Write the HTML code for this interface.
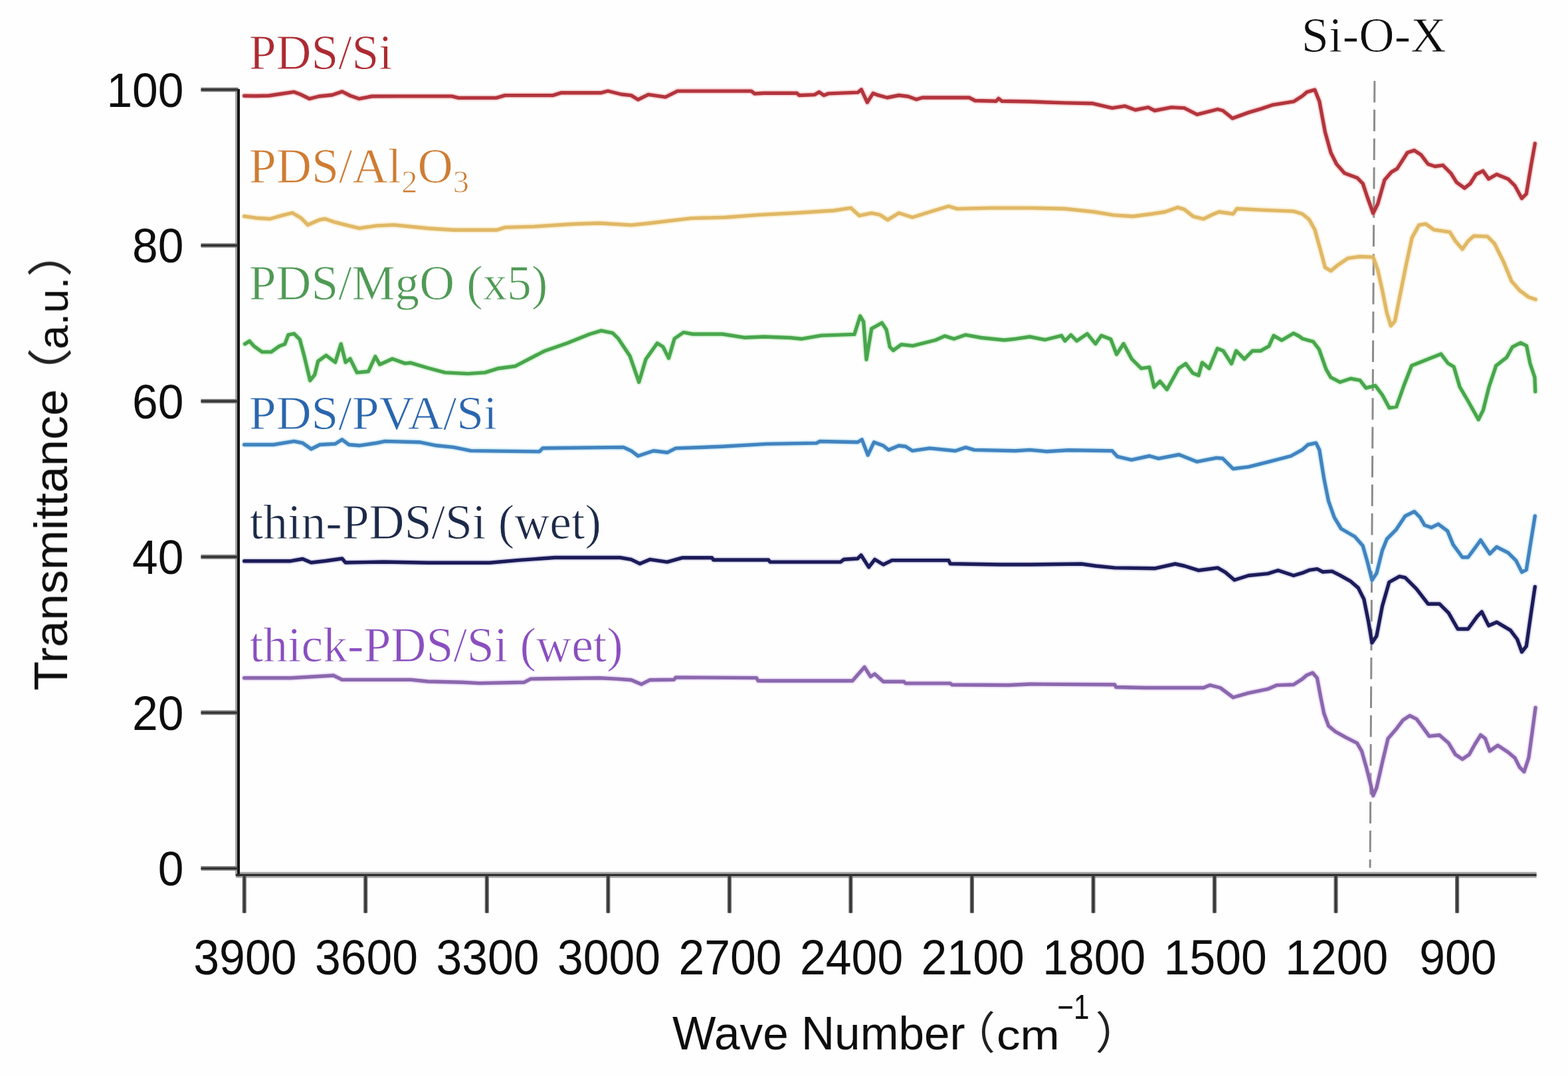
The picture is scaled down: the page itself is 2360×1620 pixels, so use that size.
<!DOCTYPE html><html><head><meta charset="utf-8"><title>FTIR spectra</title><style>html,body{margin:0;padding:0;background:#fefefe;overflow:hidden;}svg{display:block;}</style></head><body>
<svg width="2360" height="1620" viewBox="0 0 2360 1620">
<defs><filter id="b" filterUnits="userSpaceOnUse" x="0" y="0" width="2360" height="1620"><feGaussianBlur stdDeviation="0.60"/></filter></defs>
<rect width="2360" height="1620" fill="#fefefe"/><g filter="url(#b)">
<line x1="2068.9" y1="121.7" x2="2062.1" y2="1306.5" stroke="#8c8c8c" stroke-width="3.0" stroke-dasharray="32.5 10.92"/>
<path d="M367.7 144.3L385.0 144.5L405.0 144.0L425.0 141.0L442.6 138.4L452.0 142.0L465.9 148.7L480.0 145.0L500.0 143.0L515.0 137.9L527.0 144.0L540.7 148.7L560.0 145.0L600.0 144.9L640.0 144.9L680.0 144.9L690.0 147.4L747.0 147.4L760.0 143.6L832.0 143.6L845.0 139.7L905.0 139.7L915.0 137.0L935.0 142.0L950.0 143.6L960.3 150.0L975.8 142.3L1001.6 146.1L1019.7 137.1L1130.7 137.1L1135.9 141.0L1150.0 140.2L1199.4 140.2L1202.9 143.5L1225.9 142.6L1232.9 138.6L1240.0 143.5L1247.0 140.9L1291.1 139.1L1296.4 134.9L1305.3 154.1L1314.1 140.4L1319.4 142.6L1335.2 147.0L1352.9 143.5L1367.0 145.3L1379.4 149.7L1388.2 147.0L1458.8 147.0L1467.6 151.5L1499.3 152.3L1502.9 148.3L1508.2 152.3L1550.0 153.0L1602.3 154.9L1644.9 155.8L1673.9 162.6L1693.3 159.7L1708.8 165.5L1728.2 161.6L1737.8 166.5L1763.0 161.6L1782.4 162.6L1801.7 172.3L1832.7 164.5L1840.5 166.5L1855.0 178.1L1879.2 169.4L1898.6 163.6L1916.0 157.8L1947.0 152.9L1960.5 144.2L1966.9 138.6L1978.9 135.2L1985.8 152.4L1994.4 198.8L2003.0 229.8L2011.6 247.0L2023.7 260.8L2042.6 267.7L2051.2 276.3L2058.1 297.0L2066.7 321.0L2073.6 307.3L2083.9 271.1L2094.2 259.1L2102.9 253.9L2118.3 229.8L2128.7 226.4L2139.0 233.3L2149.3 247.0L2159.7 250.5L2171.7 248.8L2183.7 260.8L2192.4 274.6L2204.4 283.2L2213.0 276.3L2221.6 262.5L2232.0 257.4L2240.6 269.4L2252.6 262.5L2269.8 269.4L2280.1 279.7L2290.5 298.7L2297.3 291.8L2304.2 250.5L2310.3 216.1" fill="none" stroke="#f08a90" stroke-opacity="0.30" stroke-width="9.5" stroke-linejoin="round" stroke-linecap="round"/>
<path d="M367.7 325.7L385.8 328.2L406.5 329.5L424.5 324.4L440.0 320.5L453.0 328.2L463.3 338.6L481.4 330.8L489.1 329.5L504.6 334.7L520.1 338.6L540.7 343.7L566.6 339.9L592.4 338.6L644.0 343.7L682.7 346.3L747.3 346.3L760.2 342.4L804.1 341.1L863.5 337.3L902.2 336.0L950.0 338.9L975.8 336.3L1040.4 328.6L1092.0 327.3L1143.6 323.4L1195.3 320.8L1254.7 317.0L1280.5 313.1L1293.4 324.7L1311.5 320.8L1324.4 323.4L1336.0 331.1L1352.8 320.8L1373.4 327.3L1401.8 318.2L1427.7 310.5L1440.6 314.4L1492.2 313.1L1550.0 313.1L1602.3 314.2L1646.8 319.0L1675.9 323.9L1704.9 325.8L1734.0 322.0L1753.3 319.0L1772.7 312.3L1782.4 315.2L1795.9 325.8L1811.4 329.7L1825.0 322.9L1834.7 319.0L1856.0 322.0L1861.8 314.2L1898.6 316.1L1947.0 318.1L1960.0 322.0L1970.3 330.3L1978.9 345.8L1987.5 376.8L1994.4 402.6L2003.0 407.8L2013.4 399.2L2028.8 388.8L2046.1 386.3L2066.7 387.1L2073.6 406.1L2080.5 437.0L2087.4 471.5L2093.4 490.4L2099.4 483.5L2108.0 440.5L2116.6 397.5L2125.2 357.9L2135.6 338.9L2145.9 337.2L2157.9 345.8L2182.0 349.3L2190.6 363.0L2201.0 375.1L2209.6 363.0L2218.2 355.3L2238.8 356.1L2249.2 366.5L2262.9 394.0L2275.0 423.3L2287.0 437.0L2300.8 447.4L2311.1 450.8" fill="none" stroke="#f5d27a" stroke-opacity="0.30" stroke-width="9.5" stroke-linejoin="round" stroke-linecap="round"/>
<path d="M368.6 517.9L375.5 513.6L382.4 521.3L394.4 529.9L408.2 529.9L420.2 521.3L428.8 517.9L434.0 504.1L442.6 502.4L451.2 511.0L458.1 536.8L466.7 572.9L473.6 564.3L478.8 543.7L490.8 535.1L504.6 545.4L513.2 517.9L520.1 545.4L527.0 540.2L537.3 560.9L554.5 559.2L564.8 536.8L571.7 548.8L590.6 540.2L609.6 547.1L618.2 546.3L644.0 554.0L669.8 560.9L704.2 562.6L730.0 560.9L750.0 554.7L775.8 551.2L818.8 528.8L853.3 516.8L887.7 503.0L904.9 497.9L922.1 501.3L930.7 509.9L947.9 535.7L961.7 575.3L972.0 540.9L989.2 516.8L997.8 522.0L1006.5 539.2L1015.1 509.9L1028.8 500.4L1042.6 503.0L1087.3 503.0L1120.0 508.2L1150.0 507.0L1189.6 508.5L1206.8 510.2L1236.1 505.1L1286.0 503.4L1294.6 475.8L1299.7 484.4L1304.0 541.2L1311.8 494.8L1327.3 486.1L1334.2 496.5L1339.3 522.3L1344.5 527.5L1356.5 518.8L1373.8 520.6L1408.2 512.0L1421.9 505.9L1435.7 510.2L1452.9 504.2L1477.0 508.5L1511.4 512.0L1528.7 510.2L1550.0 507.0L1572.9 511.5L1597.6 505.3L1602.9 513.2L1611.8 504.4L1620.6 513.2L1636.5 502.6L1648.8 517.6L1657.6 505.3L1671.7 510.6L1680.6 533.5L1691.1 517.6L1703.5 540.6L1717.6 554.7L1730.0 552.9L1737.0 582.9L1745.8 574.1L1756.4 586.4L1774.0 554.7L1784.7 547.6L1795.2 561.7L1804.1 565.3L1809.4 545.9L1819.9 554.7L1832.3 524.7L1841.1 528.2L1853.5 547.6L1860.5 528.2L1872.9 540.6L1885.2 528.2L1897.6 528.2L1909.9 521.2L1917.0 505.3L1929.3 512.3L1947.0 501.8L1955.0 506.0L1960.6 510.0L1976.5 514.4L1985.3 525.9L1995.9 555.9L2002.9 568.2L2017.0 575.3L2032.9 570.0L2047.0 572.6L2055.9 584.1L2070.0 580.6L2080.6 594.7L2091.1 614.1L2101.7 612.3L2112.3 582.3L2124.7 550.6L2133.5 547.0L2151.1 540.0L2168.8 532.9L2179.4 547.0L2188.2 552.3L2197.0 582.3L2209.4 603.5L2225.2 631.7L2232.3 617.6L2241.1 582.3L2251.7 550.6L2267.6 538.2L2276.4 522.3L2288.7 516.2L2297.6 520.6L2302.9 547.0L2309.9 568.2L2310.8 589.4" fill="none" stroke="#8ee08a" stroke-opacity="0.30" stroke-width="9.5" stroke-linejoin="round" stroke-linecap="round"/>
<path d="M367.7 669.5L411.6 669.5L442.6 664.4L455.5 667.0L468.4 676.0L481.4 669.5L504.6 668.2L514.9 661.8L525.2 669.5L540.7 670.8L566.6 667.0L579.5 664.4L631.1 665.7L656.9 670.8L682.7 673.4L708.6 678.6L811.9 679.9L817.0 674.7L938.4 673.4L950.0 678.7L960.3 686.5L983.6 678.7L1004.2 681.3L1017.1 674.9L1086.8 672.3L1154.0 668.4L1228.9 667.1L1234.0 664.5L1290.8 665.8L1297.3 661.9L1306.3 685.2L1315.4 665.8L1329.5 671.0L1337.3 677.4L1352.8 671.0L1363.1 672.3L1373.4 678.7L1399.3 674.9L1438.0 678.7L1453.5 673.6L1466.4 677.4L1528.4 678.7L1550.0 677.4L1575.2 679.7L1608.1 677.8L1673.9 678.7L1681.7 687.4L1703.0 692.3L1730.1 686.5L1743.6 690.3L1774.6 684.5L1801.7 695.2L1830.8 689.4L1840.5 690.3L1856.0 705.8L1879.2 702.9L1914.0 694.2L1943.1 686.5L1960.0 677.2L1968.6 669.5L1980.7 666.9L1985.8 677.2L1992.7 720.2L1999.6 754.7L2008.2 778.8L2018.5 796.0L2039.2 808.0L2051.2 821.8L2058.1 845.9L2065.0 873.4L2071.9 863.1L2080.5 828.7L2087.4 811.5L2101.1 797.7L2114.9 777.0L2128.7 770.2L2137.3 778.8L2144.2 790.8L2154.5 794.2L2164.8 789.1L2178.6 799.4L2187.2 820.1L2201.0 839.0L2209.6 839.0L2219.9 825.2L2228.5 813.2L2235.4 823.5L2242.3 833.8L2252.6 823.5L2269.8 832.1L2281.9 844.2L2290.5 861.4L2297.3 857.9L2304.2 814.9L2310.3 777.0" fill="none" stroke="#8cd0f0" stroke-opacity="0.30" stroke-width="9.5" stroke-linejoin="round" stroke-linecap="round"/>
<path d="M367.7 844.7L437.5 844.7L455.5 841.5L468.4 847.0L490.0 844.5L514.9 841.0L520.1 847.0L576.9 846.0L644.0 847.3L695.7 847.3L737.0 847.3L780.9 843.4L835.1 839.5L933.2 839.5L950.0 842.3L962.9 848.7L978.4 842.3L1004.2 846.1L1027.5 839.7L1071.4 839.7L1073.9 843.0L1156.6 843.0L1159.1 846.1L1265.0 846.1L1270.2 842.3L1290.8 841.0L1296.0 835.8L1307.6 853.9L1316.6 842.3L1329.5 850.0L1342.5 843.6L1427.7 843.6L1430.3 848.7L1505.1 850.0L1550.0 850.0L1627.5 849.0L1648.8 852.0L1677.8 854.9L1737.8 855.8L1768.8 849.0L1782.4 852.0L1803.7 858.7L1832.7 854.9L1844.3 861.6L1857.9 873.3L1879.2 866.5L1908.2 863.6L1923.7 858.7L1947.0 866.5L1960.0 862.7L1970.3 858.4L1982.4 856.7L1991.0 861.0L2004.8 860.1L2016.8 866.1L2032.3 874.8L2044.3 885.1L2052.9 902.3L2059.8 936.7L2065.0 967.7L2071.9 957.4L2080.5 912.6L2090.8 876.5L2106.3 867.9L2114.9 869.6L2132.1 886.8L2149.3 909.2L2166.5 909.2L2180.3 922.9L2194.1 947.0L2209.6 947.0L2223.3 928.1L2230.2 921.2L2240.6 941.9L2252.6 936.7L2273.3 948.8L2283.6 962.5L2290.5 981.5L2297.3 972.9L2304.2 924.7L2310.3 883.4" fill="none" stroke="#9a9ad0" stroke-opacity="0.30" stroke-width="9.5" stroke-linejoin="round" stroke-linecap="round"/>
<path d="M367.7 1020.8L437.5 1020.8L502.0 1017.0L514.9 1023.4L592.4 1023.4L618.2 1023.4L644.0 1026.0L695.7 1027.3L721.5 1028.6L788.6 1027.3L798.9 1022.1L902.2 1020.8L928.0 1022.1L950.0 1023.7L965.5 1030.2L978.4 1023.7L1014.5 1023.2L1017.1 1019.9L1138.5 1020.6L1141.1 1025.0L1283.1 1025.0L1290.8 1016.0L1301.2 1004.4L1310.2 1018.6L1316.6 1014.7L1329.5 1026.3L1360.5 1026.3L1363.1 1028.9L1430.3 1028.9L1432.8 1031.0L1518.0 1031.5L1550.0 1030.0L1677.8 1030.7L1679.7 1034.5L1724.3 1035.5L1811.4 1035.5L1821.1 1031.6L1836.6 1035.5L1856.0 1050.0L1879.2 1043.3L1908.2 1037.4L1921.8 1031.6L1947.0 1030.7L1960.0 1022.4L1966.9 1016.4L1975.5 1012.9L1982.4 1020.7L1987.5 1048.2L1992.7 1074.0L1999.6 1092.9L2009.9 1101.5L2025.4 1110.2L2042.6 1118.8L2049.5 1130.8L2056.4 1154.9L2063.3 1182.4L2066.7 1197.9L2071.9 1185.9L2080.5 1148.0L2089.1 1111.9L2101.1 1098.1L2111.5 1084.3L2121.8 1077.5L2132.1 1082.6L2142.4 1096.4L2151.1 1108.4L2166.5 1106.7L2180.3 1118.8L2190.6 1136.0L2201.0 1142.9L2211.3 1136.0L2219.9 1120.5L2228.5 1106.7L2235.4 1111.9L2242.3 1130.8L2254.3 1122.2L2269.8 1132.5L2280.1 1141.1L2287.0 1154.9L2293.9 1161.8L2300.8 1141.1L2306.0 1103.3L2311.1 1065.4" fill="none" stroke="#d0a8f0" stroke-opacity="0.30" stroke-width="9.5" stroke-linejoin="round" stroke-linecap="round"/>
<path d="M367.7 144.3L385.0 144.5L405.0 144.0L425.0 141.0L442.6 138.4L452.0 142.0L465.9 148.7L480.0 145.0L500.0 143.0L515.0 137.9L527.0 144.0L540.7 148.7L560.0 145.0L600.0 144.9L640.0 144.9L680.0 144.9L690.0 147.4L747.0 147.4L760.0 143.6L832.0 143.6L845.0 139.7L905.0 139.7L915.0 137.0L935.0 142.0L950.0 143.6L960.3 150.0L975.8 142.3L1001.6 146.1L1019.7 137.1L1130.7 137.1L1135.9 141.0L1150.0 140.2L1199.4 140.2L1202.9 143.5L1225.9 142.6L1232.9 138.6L1240.0 143.5L1247.0 140.9L1291.1 139.1L1296.4 134.9L1305.3 154.1L1314.1 140.4L1319.4 142.6L1335.2 147.0L1352.9 143.5L1367.0 145.3L1379.4 149.7L1388.2 147.0L1458.8 147.0L1467.6 151.5L1499.3 152.3L1502.9 148.3L1508.2 152.3L1550.0 153.0L1602.3 154.9L1644.9 155.8L1673.9 162.6L1693.3 159.7L1708.8 165.5L1728.2 161.6L1737.8 166.5L1763.0 161.6L1782.4 162.6L1801.7 172.3L1832.7 164.5L1840.5 166.5L1855.0 178.1L1879.2 169.4L1898.6 163.6L1916.0 157.8L1947.0 152.9L1960.5 144.2L1966.9 138.6L1978.9 135.2L1985.8 152.4L1994.4 198.8L2003.0 229.8L2011.6 247.0L2023.7 260.8L2042.6 267.7L2051.2 276.3L2058.1 297.0L2066.7 321.0L2073.6 307.3L2083.9 271.1L2094.2 259.1L2102.9 253.9L2118.3 229.8L2128.7 226.4L2139.0 233.3L2149.3 247.0L2159.7 250.5L2171.7 248.8L2183.7 260.8L2192.4 274.6L2204.4 283.2L2213.0 276.3L2221.6 262.5L2232.0 257.4L2240.6 269.4L2252.6 262.5L2269.8 269.4L2280.1 279.7L2290.5 298.7L2297.3 291.8L2304.2 250.5L2310.3 216.1" fill="none" stroke="#b3363d" stroke-width="5.4" stroke-linejoin="round" stroke-linecap="round"/>
<path d="M367.7 325.7L385.8 328.2L406.5 329.5L424.5 324.4L440.0 320.5L453.0 328.2L463.3 338.6L481.4 330.8L489.1 329.5L504.6 334.7L520.1 338.6L540.7 343.7L566.6 339.9L592.4 338.6L644.0 343.7L682.7 346.3L747.3 346.3L760.2 342.4L804.1 341.1L863.5 337.3L902.2 336.0L950.0 338.9L975.8 336.3L1040.4 328.6L1092.0 327.3L1143.6 323.4L1195.3 320.8L1254.7 317.0L1280.5 313.1L1293.4 324.7L1311.5 320.8L1324.4 323.4L1336.0 331.1L1352.8 320.8L1373.4 327.3L1401.8 318.2L1427.7 310.5L1440.6 314.4L1492.2 313.1L1550.0 313.1L1602.3 314.2L1646.8 319.0L1675.9 323.9L1704.9 325.8L1734.0 322.0L1753.3 319.0L1772.7 312.3L1782.4 315.2L1795.9 325.8L1811.4 329.7L1825.0 322.9L1834.7 319.0L1856.0 322.0L1861.8 314.2L1898.6 316.1L1947.0 318.1L1960.0 322.0L1970.3 330.3L1978.9 345.8L1987.5 376.8L1994.4 402.6L2003.0 407.8L2013.4 399.2L2028.8 388.8L2046.1 386.3L2066.7 387.1L2073.6 406.1L2080.5 437.0L2087.4 471.5L2093.4 490.4L2099.4 483.5L2108.0 440.5L2116.6 397.5L2125.2 357.9L2135.6 338.9L2145.9 337.2L2157.9 345.8L2182.0 349.3L2190.6 363.0L2201.0 375.1L2209.6 363.0L2218.2 355.3L2238.8 356.1L2249.2 366.5L2262.9 394.0L2275.0 423.3L2287.0 437.0L2300.8 447.4L2311.1 450.8" fill="none" stroke="#e0b866" stroke-width="5.4" stroke-linejoin="round" stroke-linecap="round"/>
<path d="M368.6 517.9L375.5 513.6L382.4 521.3L394.4 529.9L408.2 529.9L420.2 521.3L428.8 517.9L434.0 504.1L442.6 502.4L451.2 511.0L458.1 536.8L466.7 572.9L473.6 564.3L478.8 543.7L490.8 535.1L504.6 545.4L513.2 517.9L520.1 545.4L527.0 540.2L537.3 560.9L554.5 559.2L564.8 536.8L571.7 548.8L590.6 540.2L609.6 547.1L618.2 546.3L644.0 554.0L669.8 560.9L704.2 562.6L730.0 560.9L750.0 554.7L775.8 551.2L818.8 528.8L853.3 516.8L887.7 503.0L904.9 497.9L922.1 501.3L930.7 509.9L947.9 535.7L961.7 575.3L972.0 540.9L989.2 516.8L997.8 522.0L1006.5 539.2L1015.1 509.9L1028.8 500.4L1042.6 503.0L1087.3 503.0L1120.0 508.2L1150.0 507.0L1189.6 508.5L1206.8 510.2L1236.1 505.1L1286.0 503.4L1294.6 475.8L1299.7 484.4L1304.0 541.2L1311.8 494.8L1327.3 486.1L1334.2 496.5L1339.3 522.3L1344.5 527.5L1356.5 518.8L1373.8 520.6L1408.2 512.0L1421.9 505.9L1435.7 510.2L1452.9 504.2L1477.0 508.5L1511.4 512.0L1528.7 510.2L1550.0 507.0L1572.9 511.5L1597.6 505.3L1602.9 513.2L1611.8 504.4L1620.6 513.2L1636.5 502.6L1648.8 517.6L1657.6 505.3L1671.7 510.6L1680.6 533.5L1691.1 517.6L1703.5 540.6L1717.6 554.7L1730.0 552.9L1737.0 582.9L1745.8 574.1L1756.4 586.4L1774.0 554.7L1784.7 547.6L1795.2 561.7L1804.1 565.3L1809.4 545.9L1819.9 554.7L1832.3 524.7L1841.1 528.2L1853.5 547.6L1860.5 528.2L1872.9 540.6L1885.2 528.2L1897.6 528.2L1909.9 521.2L1917.0 505.3L1929.3 512.3L1947.0 501.8L1955.0 506.0L1960.6 510.0L1976.5 514.4L1985.3 525.9L1995.9 555.9L2002.9 568.2L2017.0 575.3L2032.9 570.0L2047.0 572.6L2055.9 584.1L2070.0 580.6L2080.6 594.7L2091.1 614.1L2101.7 612.3L2112.3 582.3L2124.7 550.6L2133.5 547.0L2151.1 540.0L2168.8 532.9L2179.4 547.0L2188.2 552.3L2197.0 582.3L2209.4 603.5L2225.2 631.7L2232.3 617.6L2241.1 582.3L2251.7 550.6L2267.6 538.2L2276.4 522.3L2288.7 516.2L2297.6 520.6L2302.9 547.0L2309.9 568.2L2310.8 589.4" fill="none" stroke="#4aa64d" stroke-width="5.4" stroke-linejoin="round" stroke-linecap="round"/>
<path d="M367.7 669.5L411.6 669.5L442.6 664.4L455.5 667.0L468.4 676.0L481.4 669.5L504.6 668.2L514.9 661.8L525.2 669.5L540.7 670.8L566.6 667.0L579.5 664.4L631.1 665.7L656.9 670.8L682.7 673.4L708.6 678.6L811.9 679.9L817.0 674.7L938.4 673.4L950.0 678.7L960.3 686.5L983.6 678.7L1004.2 681.3L1017.1 674.9L1086.8 672.3L1154.0 668.4L1228.9 667.1L1234.0 664.5L1290.8 665.8L1297.3 661.9L1306.3 685.2L1315.4 665.8L1329.5 671.0L1337.3 677.4L1352.8 671.0L1363.1 672.3L1373.4 678.7L1399.3 674.9L1438.0 678.7L1453.5 673.6L1466.4 677.4L1528.4 678.7L1550.0 677.4L1575.2 679.7L1608.1 677.8L1673.9 678.7L1681.7 687.4L1703.0 692.3L1730.1 686.5L1743.6 690.3L1774.6 684.5L1801.7 695.2L1830.8 689.4L1840.5 690.3L1856.0 705.8L1879.2 702.9L1914.0 694.2L1943.1 686.5L1960.0 677.2L1968.6 669.5L1980.7 666.9L1985.8 677.2L1992.7 720.2L1999.6 754.7L2008.2 778.8L2018.5 796.0L2039.2 808.0L2051.2 821.8L2058.1 845.9L2065.0 873.4L2071.9 863.1L2080.5 828.7L2087.4 811.5L2101.1 797.7L2114.9 777.0L2128.7 770.2L2137.3 778.8L2144.2 790.8L2154.5 794.2L2164.8 789.1L2178.6 799.4L2187.2 820.1L2201.0 839.0L2209.6 839.0L2219.9 825.2L2228.5 813.2L2235.4 823.5L2242.3 833.8L2252.6 823.5L2269.8 832.1L2281.9 844.2L2290.5 861.4L2297.3 857.9L2304.2 814.9L2310.3 777.0" fill="none" stroke="#4284c0" stroke-width="5.4" stroke-linejoin="round" stroke-linecap="round"/>
<path d="M367.7 844.7L437.5 844.7L455.5 841.5L468.4 847.0L490.0 844.5L514.9 841.0L520.1 847.0L576.9 846.0L644.0 847.3L695.7 847.3L737.0 847.3L780.9 843.4L835.1 839.5L933.2 839.5L950.0 842.3L962.9 848.7L978.4 842.3L1004.2 846.1L1027.5 839.7L1071.4 839.7L1073.9 843.0L1156.6 843.0L1159.1 846.1L1265.0 846.1L1270.2 842.3L1290.8 841.0L1296.0 835.8L1307.6 853.9L1316.6 842.3L1329.5 850.0L1342.5 843.6L1427.7 843.6L1430.3 848.7L1505.1 850.0L1550.0 850.0L1627.5 849.0L1648.8 852.0L1677.8 854.9L1737.8 855.8L1768.8 849.0L1782.4 852.0L1803.7 858.7L1832.7 854.9L1844.3 861.6L1857.9 873.3L1879.2 866.5L1908.2 863.6L1923.7 858.7L1947.0 866.5L1960.0 862.7L1970.3 858.4L1982.4 856.7L1991.0 861.0L2004.8 860.1L2016.8 866.1L2032.3 874.8L2044.3 885.1L2052.9 902.3L2059.8 936.7L2065.0 967.7L2071.9 957.4L2080.5 912.6L2090.8 876.5L2106.3 867.9L2114.9 869.6L2132.1 886.8L2149.3 909.2L2166.5 909.2L2180.3 922.9L2194.1 947.0L2209.6 947.0L2223.3 928.1L2230.2 921.2L2240.6 941.9L2252.6 936.7L2273.3 948.8L2283.6 962.5L2290.5 981.5L2297.3 972.9L2304.2 924.7L2310.3 883.4" fill="none" stroke="#1c1a5a" stroke-width="5.4" stroke-linejoin="round" stroke-linecap="round"/>
<path d="M367.7 1020.8L437.5 1020.8L502.0 1017.0L514.9 1023.4L592.4 1023.4L618.2 1023.4L644.0 1026.0L695.7 1027.3L721.5 1028.6L788.6 1027.3L798.9 1022.1L902.2 1020.8L928.0 1022.1L950.0 1023.7L965.5 1030.2L978.4 1023.7L1014.5 1023.2L1017.1 1019.9L1138.5 1020.6L1141.1 1025.0L1283.1 1025.0L1290.8 1016.0L1301.2 1004.4L1310.2 1018.6L1316.6 1014.7L1329.5 1026.3L1360.5 1026.3L1363.1 1028.9L1430.3 1028.9L1432.8 1031.0L1518.0 1031.5L1550.0 1030.0L1677.8 1030.7L1679.7 1034.5L1724.3 1035.5L1811.4 1035.5L1821.1 1031.6L1836.6 1035.5L1856.0 1050.0L1879.2 1043.3L1908.2 1037.4L1921.8 1031.6L1947.0 1030.7L1960.0 1022.4L1966.9 1016.4L1975.5 1012.9L1982.4 1020.7L1987.5 1048.2L1992.7 1074.0L1999.6 1092.9L2009.9 1101.5L2025.4 1110.2L2042.6 1118.8L2049.5 1130.8L2056.4 1154.9L2063.3 1182.4L2066.7 1197.9L2071.9 1185.9L2080.5 1148.0L2089.1 1111.9L2101.1 1098.1L2111.5 1084.3L2121.8 1077.5L2132.1 1082.6L2142.4 1096.4L2151.1 1108.4L2166.5 1106.7L2180.3 1118.8L2190.6 1136.0L2201.0 1142.9L2211.3 1136.0L2219.9 1120.5L2228.5 1106.7L2235.4 1111.9L2242.3 1130.8L2254.3 1122.2L2269.8 1132.5L2280.1 1141.1L2287.0 1154.9L2293.9 1161.8L2300.8 1141.1L2306.0 1103.3L2311.1 1065.4" fill="none" stroke="#8b68ae" stroke-width="5.4" stroke-linejoin="round" stroke-linecap="round"/>
<line x1="357.6" y1="134.0" x2="357.6" y2="1319.2" stroke="#a0a0a0" stroke-width="7.0"/>
<line x1="355.0" y1="1317.3" x2="2312.6" y2="1317.3" stroke="#a8a8a8" stroke-width="9.0"/>
<line x1="302.5" y1="1307.4" x2="358.5" y2="1307.4" stroke="#7a7a7a" stroke-width="6.6"/>
<line x1="302.5" y1="1072.9" x2="358.5" y2="1072.9" stroke="#7a7a7a" stroke-width="6.6"/>
<line x1="302.5" y1="838.4" x2="358.5" y2="838.4" stroke="#7a7a7a" stroke-width="6.6"/>
<line x1="302.5" y1="604.0" x2="358.5" y2="604.0" stroke="#7a7a7a" stroke-width="6.6"/>
<line x1="302.5" y1="369.5" x2="358.5" y2="369.5" stroke="#7a7a7a" stroke-width="6.6"/>
<line x1="302.5" y1="135.0" x2="358.5" y2="135.0" stroke="#7a7a7a" stroke-width="6.6"/>
<line x1="367.7" y1="1317.3" x2="367.7" y2="1374.5" stroke="#727272" stroke-width="6.2"/>
<line x1="550.2" y1="1317.3" x2="550.2" y2="1374.5" stroke="#727272" stroke-width="6.2"/>
<line x1="732.8" y1="1317.3" x2="732.8" y2="1374.5" stroke="#727272" stroke-width="6.2"/>
<line x1="915.3" y1="1317.3" x2="915.3" y2="1374.5" stroke="#727272" stroke-width="6.2"/>
<line x1="1097.9" y1="1317.3" x2="1097.9" y2="1374.5" stroke="#727272" stroke-width="6.2"/>
<line x1="1280.4" y1="1317.3" x2="1280.4" y2="1374.5" stroke="#727272" stroke-width="6.2"/>
<line x1="1462.9" y1="1317.3" x2="1462.9" y2="1374.5" stroke="#727272" stroke-width="6.2"/>
<line x1="1645.5" y1="1317.3" x2="1645.5" y2="1374.5" stroke="#727272" stroke-width="6.2"/>
<line x1="1828.0" y1="1317.3" x2="1828.0" y2="1374.5" stroke="#727272" stroke-width="6.2"/>
<line x1="2010.6" y1="1317.3" x2="2010.6" y2="1374.5" stroke="#727272" stroke-width="6.2"/>
<line x1="2193.1" y1="1317.3" x2="2193.1" y2="1374.5" stroke="#727272" stroke-width="6.2"/>
<line x1="359.0" y1="134.0" x2="359.0" y2="1319.2" stroke="#111" stroke-width="3.8"/>
<line x1="355.0" y1="1317.3" x2="2312.6" y2="1317.3" stroke="#2e2e2e" stroke-width="3.2"/>
<line x1="302.5" y1="1307.4" x2="358.5" y2="1307.4" stroke="#333" stroke-width="3.0"/>
<line x1="302.5" y1="1072.9" x2="358.5" y2="1072.9" stroke="#333" stroke-width="3.0"/>
<line x1="302.5" y1="838.4" x2="358.5" y2="838.4" stroke="#333" stroke-width="3.0"/>
<line x1="302.5" y1="604.0" x2="358.5" y2="604.0" stroke="#333" stroke-width="3.0"/>
<line x1="302.5" y1="369.5" x2="358.5" y2="369.5" stroke="#333" stroke-width="3.0"/>
<line x1="302.5" y1="135.0" x2="358.5" y2="135.0" stroke="#333" stroke-width="3.0"/>
<line x1="367.7" y1="1317.3" x2="367.7" y2="1374.5" stroke="#363636" stroke-width="3.2"/>
<line x1="550.2" y1="1317.3" x2="550.2" y2="1374.5" stroke="#363636" stroke-width="3.2"/>
<line x1="732.8" y1="1317.3" x2="732.8" y2="1374.5" stroke="#363636" stroke-width="3.2"/>
<line x1="915.3" y1="1317.3" x2="915.3" y2="1374.5" stroke="#363636" stroke-width="3.2"/>
<line x1="1097.9" y1="1317.3" x2="1097.9" y2="1374.5" stroke="#363636" stroke-width="3.2"/>
<line x1="1280.4" y1="1317.3" x2="1280.4" y2="1374.5" stroke="#363636" stroke-width="3.2"/>
<line x1="1462.9" y1="1317.3" x2="1462.9" y2="1374.5" stroke="#363636" stroke-width="3.2"/>
<line x1="1645.5" y1="1317.3" x2="1645.5" y2="1374.5" stroke="#363636" stroke-width="3.2"/>
<line x1="1828.0" y1="1317.3" x2="1828.0" y2="1374.5" stroke="#363636" stroke-width="3.2"/>
<line x1="2010.6" y1="1317.3" x2="2010.6" y2="1374.5" stroke="#363636" stroke-width="3.2"/>
<line x1="2193.1" y1="1317.3" x2="2193.1" y2="1374.5" stroke="#363636" stroke-width="3.2"/>
<text transform="matrix(0.9298 0 0 0.9906 368.90 1467.00)" text-anchor="middle" font-family="Liberation Sans, Arial, sans-serif" font-size="75" fill="#111">3900</text>
<text transform="matrix(0.9298 0 0 0.9906 551.44 1467.00)" text-anchor="middle" font-family="Liberation Sans, Arial, sans-serif" font-size="75" fill="#111">3600</text>
<text transform="matrix(0.9298 0 0 0.9906 733.98 1467.00)" text-anchor="middle" font-family="Liberation Sans, Arial, sans-serif" font-size="75" fill="#111">3300</text>
<text transform="matrix(0.9298 0 0 0.9906 916.52 1467.00)" text-anchor="middle" font-family="Liberation Sans, Arial, sans-serif" font-size="75" fill="#111">3000</text>
<text transform="matrix(0.9298 0 0 0.9906 1099.06 1467.00)" text-anchor="middle" font-family="Liberation Sans, Arial, sans-serif" font-size="75" fill="#111">2700</text>
<text transform="matrix(0.9298 0 0 0.9906 1281.61 1467.00)" text-anchor="middle" font-family="Liberation Sans, Arial, sans-serif" font-size="75" fill="#111">2400</text>
<text transform="matrix(0.9298 0 0 0.9906 1464.15 1467.00)" text-anchor="middle" font-family="Liberation Sans, Arial, sans-serif" font-size="75" fill="#111">2100</text>
<text transform="matrix(0.9298 0 0 0.9906 1646.69 1467.00)" text-anchor="middle" font-family="Liberation Sans, Arial, sans-serif" font-size="75" fill="#111">1800</text>
<text transform="matrix(0.9298 0 0 0.9906 1829.23 1467.00)" text-anchor="middle" font-family="Liberation Sans, Arial, sans-serif" font-size="75" fill="#111">1500</text>
<text transform="matrix(0.9298 0 0 0.9906 2011.77 1467.00)" text-anchor="middle" font-family="Liberation Sans, Arial, sans-serif" font-size="75" fill="#111">1200</text>
<text transform="matrix(0.9298 0 0 0.9906 2194.31 1467.00)" text-anchor="middle" font-family="Liberation Sans, Arial, sans-serif" font-size="75" fill="#111">900</text>
<text transform="matrix(0.9533 0 0 0.9904 276.50 1333.40)" text-anchor="end" font-family="Liberation Sans, Arial, sans-serif" font-size="73" fill="#111">0</text>
<text transform="matrix(0.9533 0 0 0.9904 276.50 1098.92)" text-anchor="end" font-family="Liberation Sans, Arial, sans-serif" font-size="73" fill="#111">20</text>
<text transform="matrix(0.9533 0 0 0.9904 276.50 864.44)" text-anchor="end" font-family="Liberation Sans, Arial, sans-serif" font-size="73" fill="#111">40</text>
<text transform="matrix(0.9533 0 0 0.9904 276.50 629.96)" text-anchor="end" font-family="Liberation Sans, Arial, sans-serif" font-size="73" fill="#111">60</text>
<text transform="matrix(0.9533 0 0 0.9904 276.50 395.48)" text-anchor="end" font-family="Liberation Sans, Arial, sans-serif" font-size="73" fill="#111">80</text>
<text transform="matrix(0.9533 0 0 0.9904 276.50 161.00)" text-anchor="end" font-family="Liberation Sans, Arial, sans-serif" font-size="73" fill="#111">100</text>
<text x="100" y="250" transform="matrix(0.9638 0 0 0.9692 278.49 -138.38)" font-family="Liberation Serif, Times New Roman, serif" font-size="76" fill="#ad2a30" stroke="#fefefe" stroke-width="0.90" stroke-linejoin="round">PDS/Si</text>
<text x="100" y="250" transform="matrix(0.9701 0 0 0.9739 277.85 31.74)" font-family="Liberation Serif, Times New Roman, serif" font-size="76" fill="#cf7c33" stroke="#fefefe" stroke-width="0.90" stroke-linejoin="round">PDS/Al<tspan font-size="50" dy="15">2</tspan><tspan dy="-15">O</tspan><tspan font-size="50" dy="15">3</tspan></text>
<text x="100" y="250" transform="matrix(0.9633 0 0 0.9725 278.54 207.82)" font-family="Liberation Serif, Times New Roman, serif" font-size="76" fill="#4f9a55" stroke="#fefefe" stroke-width="0.90" stroke-linejoin="round">PDS/MgO (x5)</text>
<text x="100" y="250" transform="matrix(0.9648 0 0 0.9423 278.39 410.68)" font-family="Liberation Serif, Times New Roman, serif" font-size="76" fill="#2c66ae" stroke="#fefefe" stroke-width="0.90" stroke-linejoin="round">PDS/PVA/Si</text>
<text x="100" y="250" transform="matrix(0.9676 0 0 0.9725 279.07 567.82)" font-family="Liberation Serif, Times New Roman, serif" font-size="76" fill="#1d2a48" stroke="#fefefe" stroke-width="0.90" stroke-linejoin="round">thin-PDS/Si (wet)</text>
<text x="100" y="250" transform="matrix(0.9682 0 0 0.9623 279.01 755.62)" font-family="Liberation Serif, Times New Roman, serif" font-size="76" fill="#8a4fbf" stroke="#fefefe" stroke-width="0.90" stroke-linejoin="round">thick-PDS/Si (wet)</text>
<text x="100" y="250" transform="matrix(0.9739 0 0 0.9712 1861.45 -164.56)" font-family="Liberation Serif, Times New Roman, serif" font-size="76" fill="#111" stroke="#fefefe" stroke-width="0.90" stroke-linejoin="round">Si-O-X</text>
<text x="100" y="250" transform="matrix(0.9773 0 0 0.9846 914.27 1333.76)" font-family="Liberation Sans, Arial, sans-serif" font-size="71" fill="#111">Wave Number</text>
<text x="100" y="250" transform="matrix(0.9316 0 0 0.9403 1338.89 1344.34)" font-family="Liberation Sans, Noto Sans CJK JP, sans-serif" font-size="71" fill="#222">（</text>
<text x="100" y="250" transform="matrix(1.0023 0 0 0.8949 1399.66 1356.49)" font-family="Liberation Sans, Arial, sans-serif" font-size="71" fill="#111">cm</text>
<text x="100" y="250" transform="matrix(0.8481 0 0 1.0457 1506.45 1272.87)" font-family="Liberation Sans, Arial, sans-serif" font-size="50" fill="#111">−1</text>
<text x="100" y="250" transform="matrix(0.9632 0 0 0.9403 1552.19 1344.34)" font-family="Liberation Sans, Noto Sans CJK JP, sans-serif" font-size="71" fill="#222">）</text>
<g transform="translate(102.0 1038.7) rotate(-90)">
<text x="100" y="250" transform="matrix(1.0153 0 0 0.9808 -102.55 -246.17)" font-family="Liberation Sans, Arial, sans-serif" font-size="71" fill="#111">Transmittance</text>
<text x="100" y="250" transform="matrix(1.1316 0 0 0.9627 321.89 -241.41)" font-family="Liberation Sans, Noto Sans CJK JP, sans-serif" font-size="71" fill="#222">（</text>
<text x="100" y="250" transform="matrix(0.9211 0 0 0.9077 420.53 -227.23)" font-family="Liberation Sans, Arial, sans-serif" font-size="71" fill="#111">a.u.</text>
<text x="100" y="250" transform="matrix(1.0737 0 0 0.9627 514.21 -241.41)" font-family="Liberation Sans, Noto Sans CJK JP, sans-serif" font-size="71" fill="#222">）</text>
</g>
</g></svg></body></html>
